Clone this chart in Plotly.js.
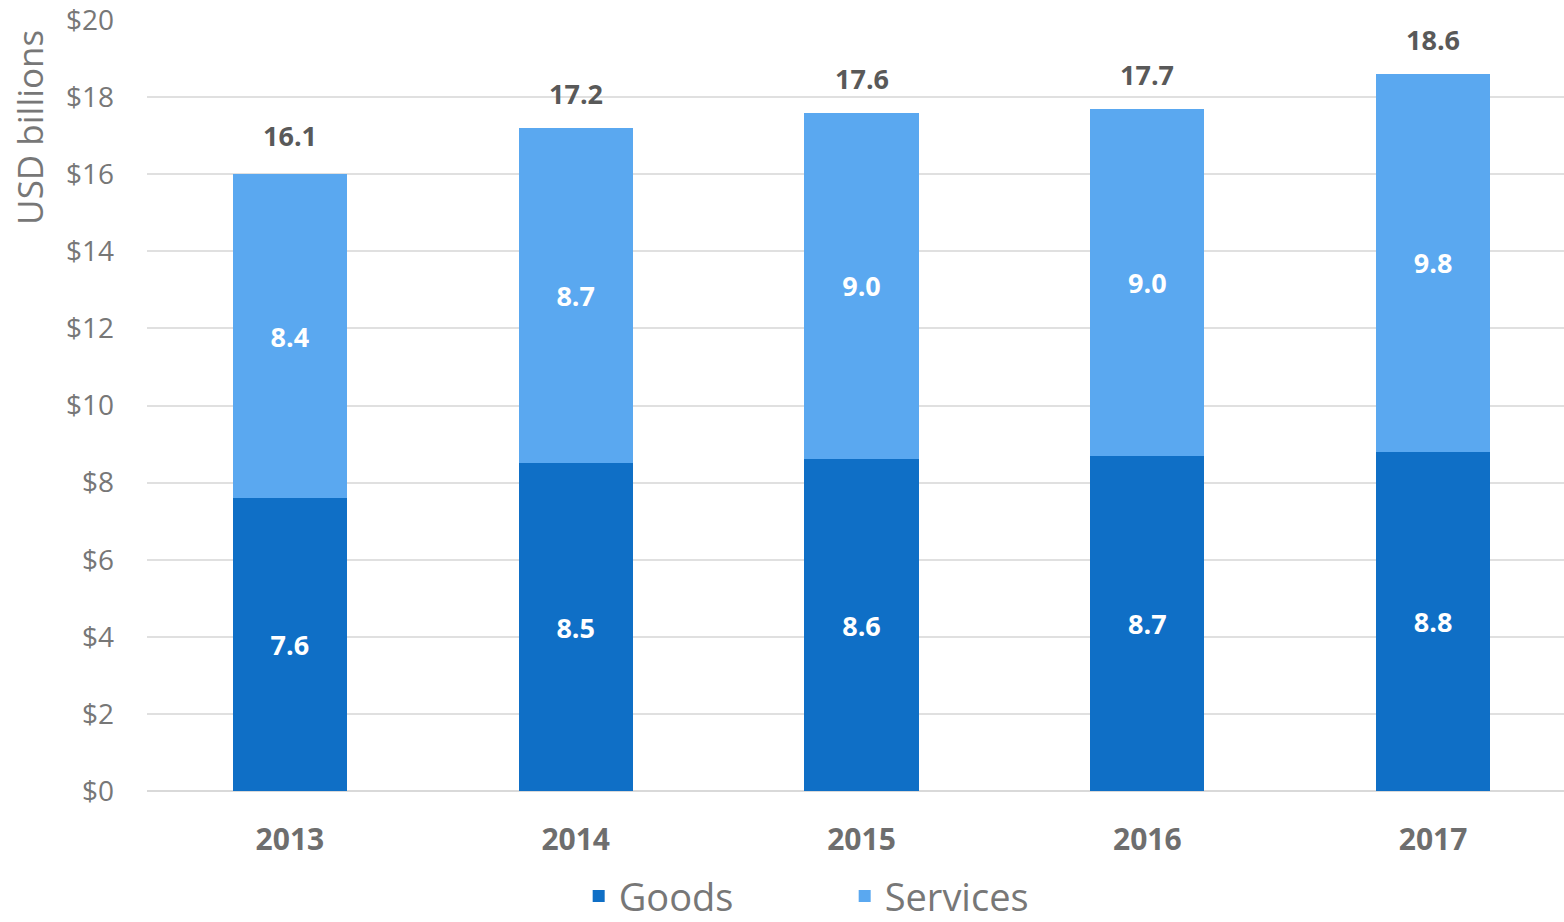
<!DOCTYPE html>
<html>
<head>
<meta charset="utf-8">
<script src="https://cdn.plot.ly/plotly-3.0.1.min.js"></script>
<style>html,body{margin:0;padding:0;background:#fff;}#chart{width:1564px;height:922px;}</style>
</head>
<body>
<div id="chart"></div>
<script>
const years = ['2013', '2014', '2015', '2016', '2017'];
const goods = [7.6, 8.5, 8.6, 8.7, 8.8];
const services = [8.4, 8.7, 9.0, 9.0, 9.8];
const totals = [16.1, 17.2, 17.6, 17.7, 18.6];
const yTicks = [0, 2, 4, 6, 8, 10, 12, 14, 16, 18, 20];

const FONT = '"Open Sans", "Noto Sans", sans-serif';
const labelFont = {family: FONT, size: 27, color: '#ffffff', weight: 700};

const traces = [
  {
    type: 'bar', name: 'Goods', x: years, y: goods,
    marker: {color: '#0F6FC6'},
    text: goods.map(v => v.toFixed(1)), textposition: 'inside', insidetextanchor: 'middle',
    textfont: labelFont, hoverinfo: 'skip', textangle: 0
  },
  {
    type: 'bar', name: 'Services', x: years, y: services,
    marker: {color: '#5AA8F0'},
    text: services.map(v => v.toFixed(1)), textposition: 'inside', insidetextanchor: 'middle',
    textfont: labelFont, hoverinfo: 'skip', textangle: 0
  }
];

const annotations = years.map((yr, i) => ({
  x: i, y: totals[i], xref: 'x', yref: 'y',
  text: '<b>' + totals[i].toFixed(1) + '</b>', showarrow: false,
  yanchor: 'bottom', yshift: 14,
  font: {family: FONT, size: 27, color: '#595959'}
}));
annotations.push({
  xref: 'paper', yref: 'paper', x: -0.083, y: 1.0, xanchor: 'center', yanchor: 'top',
  text: 'USD billions', textangle: -90, showarrow: false, yshift: -8,
  font: {family: FONT, size: 35, color: '#777777'}
});

const layout = {
  width: 1564, height: 922,
  margin: {l: 147, r: 0, t: 20, b: 131},
  paper_bgcolor: '#ffffff', plot_bgcolor: '#ffffff',
  barmode: 'stack', bargap: 0.6,
  font: {family: FONT, color: '#777777'},
  xaxis: {
    type: 'category', range: [-0.5, 4.458], showgrid: false, ticks: '', showline: false,
    tickfont: {family: FONT, size: 30, color: '#6e6e6e', weight: 700},
    ticklabelstandoff: 28
  },
  yaxis: {
    range: [0, 20], tickvals: yTicks, ticktext: yTicks.map(v => '$' + v),
    showgrid: true, gridcolor: '#e0e0e0', gridwidth: 2,
    zeroline: true, zerolinecolor: '#d9d9d9', zerolinewidth: 2,
    showline: false, ticks: '', ticklabeloverflow: 'allow',
    tickfont: {family: FONT, size: 28, color: '#777777'},
    ticklabelstandoff: 32
  },
  showlegend: true,
  legend: {
    orientation: 'h', xref: 'container', yref: 'container',
    x: 0.370, xanchor: 'left', y: 0.028, yanchor: 'middle',
    font: {family: FONT, size: 38, color: '#777777'},
    entrywidth: 221, entrywidthmode: 'pixels', traceorder: 'normal'
  },
  annotations: annotations
};

Plotly.newPlot('chart', traces, layout, {displayModeBar: false, staticPlot: true});
</script>
</body>
</html>
